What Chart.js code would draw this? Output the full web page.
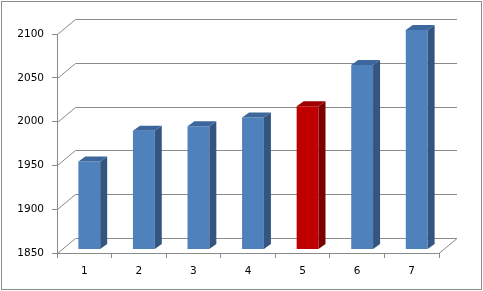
<!DOCTYPE html>
<html>
<head>
<meta charset="utf-8">
<script src="https://cdn.jsdelivr.net/npm/chart.js@4/dist/chart.umd.min.js"></script>
<style>
  html, body { margin: 0; padding: 0; background: #fff; }
  #wrap { width: 483px; height: 291px; }
</style>
</head>
<body>
<div id="wrap"><canvas id="c" width="483" height="291"></canvas></div>
<script>
const labels = ['1', '2', '3', '4', '5', '6', '7'];
const values = [1950, 1985, 1990, 2000, 2013, 2060, 2100];
const highlight = 4;
const yTicks = [1850, 1900, 1950, 2000, 2050, 2100];

const blue = { front: '#4f81bd', side: '#34557f', top: '#3d679c' };
const red = { front: '#c00000', side: '#7a0000', top: '#a00000' };
const gridColor = '#8a8a8a';

// 3d offsets: wall depth, bar position in depth, bar thickness
const wall = { dx: 18, dy: -15 };
const shift = { dx: 5, dy: -4 };
const depth = { dx: 7, dy: -5 };

const threeD = {
  id: 'threeD',
  beforeDraw(chart) {
    const { ctx, chartArea: a, scales } = chart;
    ctx.save();
    ctx.fillStyle = '#fff';
    ctx.fillRect(0, 0, chart.width, chart.height);
    ctx.strokeStyle = '#8c8c8c';
    ctx.lineWidth = 1;
    ctx.strokeRect(1.5, 1.5, 480, 288);

    ctx.strokeStyle = gridColor;
    yTicks.forEach(v => {
      const y = Math.round(scales.y.getPixelForValue(v)) + 0.5;
      ctx.beginPath();
      ctx.moveTo(a.left + 0.5, y);
      ctx.lineTo(a.left + 0.5 + wall.dx, y + wall.dy);
      ctx.lineTo(a.right + wall.dx, y + wall.dy);
      ctx.stroke();
    });
    const yb = Math.round(scales.y.getPixelForValue(yTicks[0])) + 0.5;
    ctx.beginPath();
    ctx.moveTo(a.right, yb);
    ctx.lineTo(a.right + wall.dx, yb + wall.dy);
    ctx.stroke();
    ctx.restore();
  },
  beforeDatasetsDraw(chart) {
    chart.ctx.save();
    chart.ctx.translate(shift.dx, shift.dy);
  },
  afterDatasetsDraw(chart) {
    const ctx = chart.ctx;
    const floor = chart.scales.y.getPixelForValue(yTicks[0]);
    chart.getDatasetMeta(0).data.forEach((bar, i) => {
      const c = i === highlight ? red : blue;
      const l = bar.x - bar.width / 2, r = bar.x + bar.width / 2;
      const base = Math.min(bar.base, floor);
      ctx.fillStyle = c.side;
      ctx.beginPath();
      ctx.moveTo(r, bar.y);
      ctx.lineTo(r + depth.dx, bar.y + depth.dy);
      ctx.lineTo(r + depth.dx, base + depth.dy);
      ctx.lineTo(r, base);
      ctx.closePath();
      ctx.fill();
      ctx.fillStyle = c.top;
      ctx.beginPath();
      ctx.moveTo(l, bar.y);
      ctx.lineTo(r, bar.y);
      ctx.lineTo(r + depth.dx, bar.y + depth.dy);
      ctx.lineTo(l + depth.dx, bar.y + depth.dy);
      ctx.closePath();
      ctx.fill();
    });
    ctx.restore();
  }
};

new Chart(document.getElementById('c'), {
  type: 'bar',
  data: {
    labels,
    datasets: [{
      data: values,
      backgroundColor: values.map((v, i) => i === highlight ? red.front : blue.front),
      categoryPercentage: 1,
      barPercentage: 0.4
    }]
  },
  options: {
    responsive: false,
    animation: false,
    events: [],
    layout: { padding: { left: 0, top: 34, right: 44, bottom: 0 } },
    plugins: { legend: { display: false }, tooltip: { enabled: false } },
    scales: {
      x: {
        grid: { drawOnChartArea: false, color: gridColor, tickLength: 5 },
        border: { color: gridColor },
        ticks: { color: '#000', padding: 7, font: { family: 'DejaVu Sans', size: 10.5 } },
        afterFit(s) { s.height = 38; }
      },
      y: {
        min: 1850,
        max: 2100,
        afterBuildTicks(s) { s.ticks = yTicks.map(v => ({ value: v })); },
        grid: { drawOnChartArea: false, color: gridColor, tickLength: 5 },
        border: { color: gridColor },
        ticks: { color: '#000', padding: 8, font: { family: 'DejaVu Sans', size: 10.5 }, callback: v => String(v) },
        afterFit(s) { s.width = 57; }
      }
    }
  },
  plugins: [threeD]
});
</script>
</body>
</html>
